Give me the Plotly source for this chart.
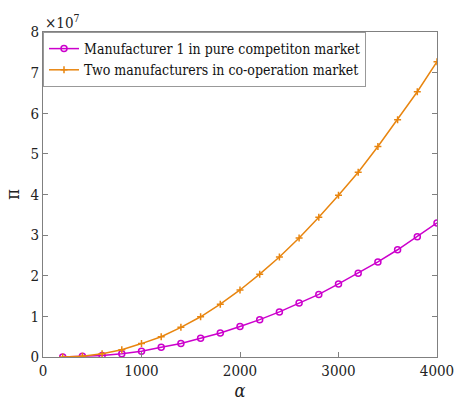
import plotly.graph_objects as go

alpha = [200, 400, 600, 800, 1000, 1200, 1400, 1600, 1800, 2000,
         2200, 2400, 2600, 2800, 3000, 3200, 3400, 3600, 3800, 4000]
# profits in units of 1e7
pure_comp = [0.0, 0.016, 0.04, 0.08, 0.14, 0.24, 0.33, 0.46, 0.59, 0.75,
             0.92, 1.11, 1.33, 1.54, 1.80, 2.06, 2.34, 2.64, 2.96, 3.30]
coop = [0.0, 0.02, 0.08, 0.18, 0.33, 0.50, 0.73, 0.99, 1.30, 1.65,
        2.04, 2.46, 2.93, 3.44, 3.98, 4.55, 5.18, 5.84, 6.53, 7.27]
x_ticks = [0, 1000, 2000, 3000, 4000]
y_ticks = [0, 1, 2, 3, 4, 5, 6, 7, 8]

names = ["Manufacturer 1 in pure competiton market",
         "Two manufacturers in co-operation market"]
magenta = "#CC00CC"
orange = "#E8850F"
font = "DejaVu Serif Condensed, DejaVu Serif"

fig = go.Figure()
fig.add_trace(go.Scatter(
    x=alpha, y=pure_comp, mode="lines+markers", name=names[0],
    line=dict(color=magenta, width=1.5),
    marker=dict(symbol="circle-open", size=6, color=magenta, line=dict(width=1.5)),
))
fig.add_trace(go.Scatter(
    x=alpha, y=coop, mode="lines+markers", name=names[1],
    line=dict(color=orange, width=1.5),
    marker=dict(symbol="cross-thin-open", size=5, color=orange, line=dict(width=1.5, color=orange)),
))

axis_common = dict(
    showline=True, linecolor="#808080", linewidth=1, mirror="ticks",
    ticks="inside", ticklen=5, tickcolor="#808080",
    showgrid=False, zeroline=False,
    tickfont=dict(family=font, size=15, color="#222222"),
    ticklabeloverflow="allow",
)
fig.update_xaxes(range=[0, 4000], tickvals=x_ticks,
                 title=dict(text="<i>α</i>", font=dict(family=font, size=18, color="#222222"), standoff=4),
                 **axis_common)
fig.update_yaxes(range=[0, 8], tickvals=y_ticks,
                 title=dict(text="π", font=dict(family=font, size=18, color="#222222"), standoff=6),
                 **axis_common)

fig.add_annotation(xref="paper", yref="paper", x=0.0, y=1.0, xanchor="left", yanchor="bottom",
                   text="×10<sup>7</sup>", showarrow=False,
                   font=dict(family=font, size=15, color="#222222"), yshift=-2)

fig.update_layout(
    width=466, height=409,
    margin=dict(l=40, r=19, t=32, b=48),
    font=dict(family=font),
    paper_bgcolor="white", plot_bgcolor="white",
    showlegend=True,
    legend=dict(x=0, y=1, xanchor="left", yanchor="top",
                bgcolor="white", bordercolor="#999999", borderwidth=1,
                font=dict(family=font, size=14, color="#111111"),
                tracegroupgap=0, itemwidth=30),
)

fig.write_html("out.html")
